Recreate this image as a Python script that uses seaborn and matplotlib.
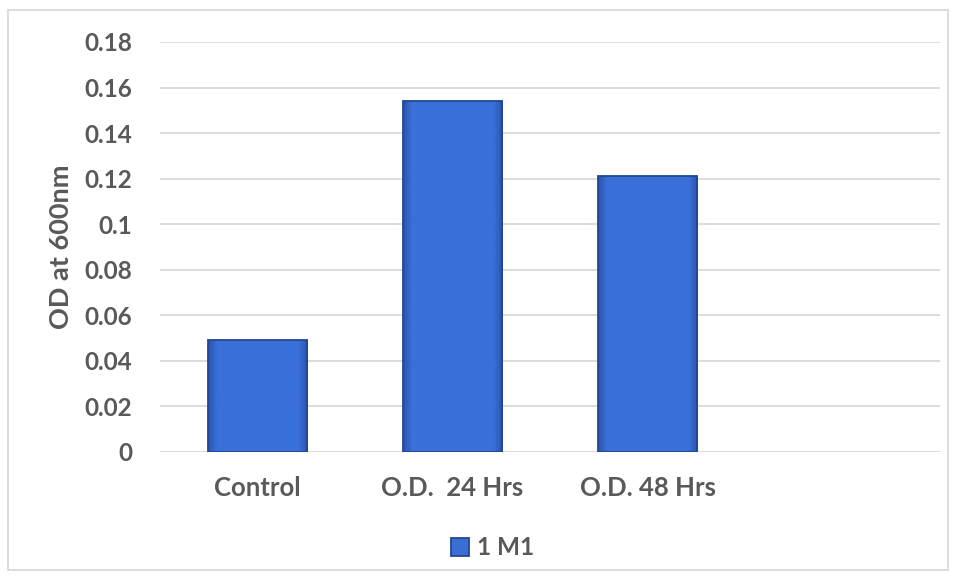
import matplotlib
import numpy as np
import pandas as pd
import seaborn as sns
from matplotlib import pyplot as plt
from matplotlib.colors import to_rgb
from matplotlib.patches import Rectangle

matplotlib.use('agg')

categories = ["Control", "O.D.  24 Hrs", "O.D. 48 Hrs"]
values = [0.049, 0.154, 0.121]
series = ["1 M1"] * 3
y_ticks = [0, 0.02, 0.04, 0.06, 0.08, 0.1, 0.12, 0.14, 0.16, 0.18]
y_tick_labels = ["0", "0.02", "0.04", "0.06", "0.08", "0.1", "0.12", "0.14", "0.16", "0.18"]

TEXT = '#595959'
GRID = '#D9D9D9'
BAR = '#3A6DD6'

sns.set_theme(style="white")
plt.rcParams['font.family'] = ['Lato', 'DejaVu Sans']
plt.rcParams['font.weight'] = 'bold'

df = pd.DataFrame({"cat": categories, "od": values, "series": series})

fig = plt.figure(figsize=(9.56, 5.8), dpi=100)
ax = fig.add_axes([0.1674, 0.2207, 0.8159, 0.7069])

sns.barplot(df, x="cat", y="od", hue="series", ax=ax, width=0.51,
            palette=[BAR], saturation=1, edgecolor='#22478F',
            linewidth=1.3, zorder=3)

# soft bevel look: darker towards the left/right edges of each bar
t = np.abs(np.linspace(-1, 1, 200))
mix = np.clip((t - 0.82) / 0.18, 0, 1)[None, :, None]
c_mid = np.array(to_rgb('#3A70DA'))
c_edge = np.array(to_rgb('#2A52AE'))
grad = c_mid * (1 - mix) + c_edge * mix
for p in list(ax.patches):
    x0, y0 = p.get_x(), p.get_y()
    w, h = p.get_width(), p.get_height()
    if not np.isfinite(h) or h == 0:
        continue
    im = ax.imshow(grad, extent=(x0, x0 + w, y0, y0 + h), aspect='auto',
                   zorder=2.9, interpolation='bilinear')
    im.set_clip_path(p)
    p.set_facecolor('none')

ax.set_xlim(-0.5, 3.5)
ax.set_ylim(0, 0.18)
ax.set_yticks(y_ticks)
ax.set_yticklabels(y_tick_labels)
ax.yaxis.grid(True, color=GRID, linewidth=1.3, zorder=0)
ax.xaxis.grid(False)
for s in ax.spines.values():
    s.set_visible(False)
ax.tick_params(axis='y', length=0, labelsize=17.5, labelcolor=TEXT, pad=20)
ax.tick_params(axis='x', length=0, labelsize=18.5, labelcolor=TEXT, pad=17)
for lab in ax.get_xticklabels() + ax.get_yticklabels():
    lab.set_fontweight('bold')
ax.set_xlabel("")
ax.set_ylabel("OD at 600nm", fontsize=19.5, fontweight='bold', color=TEXT, labelpad=8)

leg = ax.legend(loc='center', bbox_to_anchor=(0.515, 0.0555), bbox_transform=fig.transFigure,
                frameon=False, fontsize=17.5, handlelength=0.75, handleheight=0.75,
                handletextpad=0.3)
for h in leg.legend_handles:
    h.set_facecolor(BAR)
    h.set_edgecolor('#22478F')
for t in leg.get_texts():
    t.set_color(TEXT)
    t.set_fontweight('bold')

# light outer chart frame
fig.patches.append(Rectangle((8 / 956, 10 / 580), 940 / 956, 560 / 580,
                             transform=fig.transFigure, fill=False,
                             edgecolor=GRID, linewidth=1.3))

fig.savefig("out.png", dpi=100)
plt.close()
